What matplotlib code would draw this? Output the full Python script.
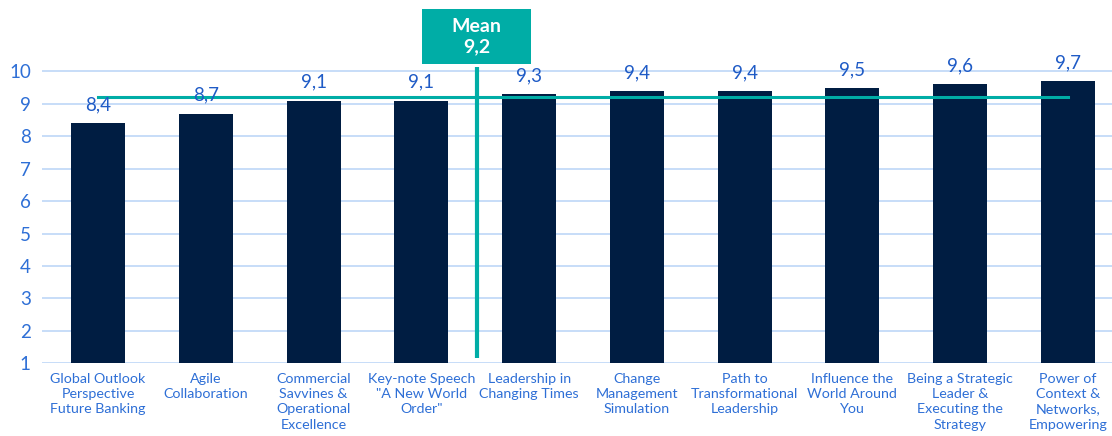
import matplotlib
matplotlib.use("Agg")
import matplotlib.pyplot as plt
from matplotlib.patches import Rectangle

plt.rcParams['font.family'] = ['Lato', 'DejaVu Sans']

categories = [
    "Global Outlook\nPerspective\nFuture Banking",
    "Agile\nCollaboration",
    "Commercial\nSavvines &\nOperational\nExcellence",
    "Key-note Speech\n\"A New World\nOrder\"",
    "Leadership in\nChanging Times",
    "Change\nManagement\nSimulation",
    "Path to\nTransformational\nLeadership",
    "Influence the\nWorld Around\nYou",
    "Being a Strategic\nLeader &\nExecuting the\nStrategy",
    "Power of\nContext &\nNetworks,\nEmpowering",
]
scores = [8.4, 8.7, 9.1, 9.1, 9.3, 9.4, 9.4, 9.5, 9.6, 9.7]
mean_value = 9.2
y_ticks = [1, 2, 3, 4, 5, 6, 7, 8, 9, 10]

BAR = "#001D42"
TEAL = "#00ADA6"
GRID = "#BDD7F7"
LABEL_BLUE = "#1F5BC6"
TICK_BLUE = "#2E6FD6"

fig = plt.figure(figsize=(11.12, 4.36), dpi=100)
ax = fig.add_axes([0.0378, 0.167, 0.9622, 0.7436])

x = list(range(len(categories)))
ax.bar(x, [s - 1 for s in scores], bottom=1, width=0.5, color=BAR, zorder=3)

for xi, s in zip(x, scores):
    ax.annotate(f"{s:.1f}".replace(".", ","), (xi, s), xytext=(0, 7),
                textcoords="offset points", ha="center", va="bottom",
                fontsize=13.5, color=LABEL_BLUE, zorder=5)

# mean line across the bars
ax.plot([x[0], x[-1]], [mean_value, mean_value], color=TEAL, lw=2.2, zorder=4)
# vertical marker under the mean callout
ax.plot([3.52, 3.52], [1.15, 10.15], color=TEAL, lw=3, zorder=4,
        solid_capstyle="butt")

ax.set_xlim(-0.52, 9.41)
ax.set_ylim(1, 11)
ax.set_yticks(y_ticks)
ax.set_yticklabels([str(t) for t in y_ticks], fontsize=13.5, color=TICK_BLUE)
ax.set_xticks(x)
ax.set_xticklabels(categories, fontsize=10.3, color=TICK_BLUE,
                   linespacing=1.32, va="top")
ax.tick_params(axis="both", length=0)
ax.tick_params(axis="x", pad=7)
ax.tick_params(axis="y", pad=8)
ax.grid(axis="y", color=GRID, lw=1.2, zorder=0)
for sp in ax.spines.values():
    sp.set_visible(False)

# mean callout box
fig.patches.append(Rectangle((0.3795, 0.853), 0.098, 0.126, transform=fig.transFigure,
                             facecolor=TEAL, edgecolor="none", zorder=6))
fig.text(0.3795 + 0.049, 0.853 + 0.063,
         "Mean\n" + f"{mean_value:.1f}".replace(".", ","),
         ha="center", va="center", color="white", fontsize=14,
         fontweight="bold", linespacing=1.3, zorder=7)

fig.savefig("out.png", dpi=100)
